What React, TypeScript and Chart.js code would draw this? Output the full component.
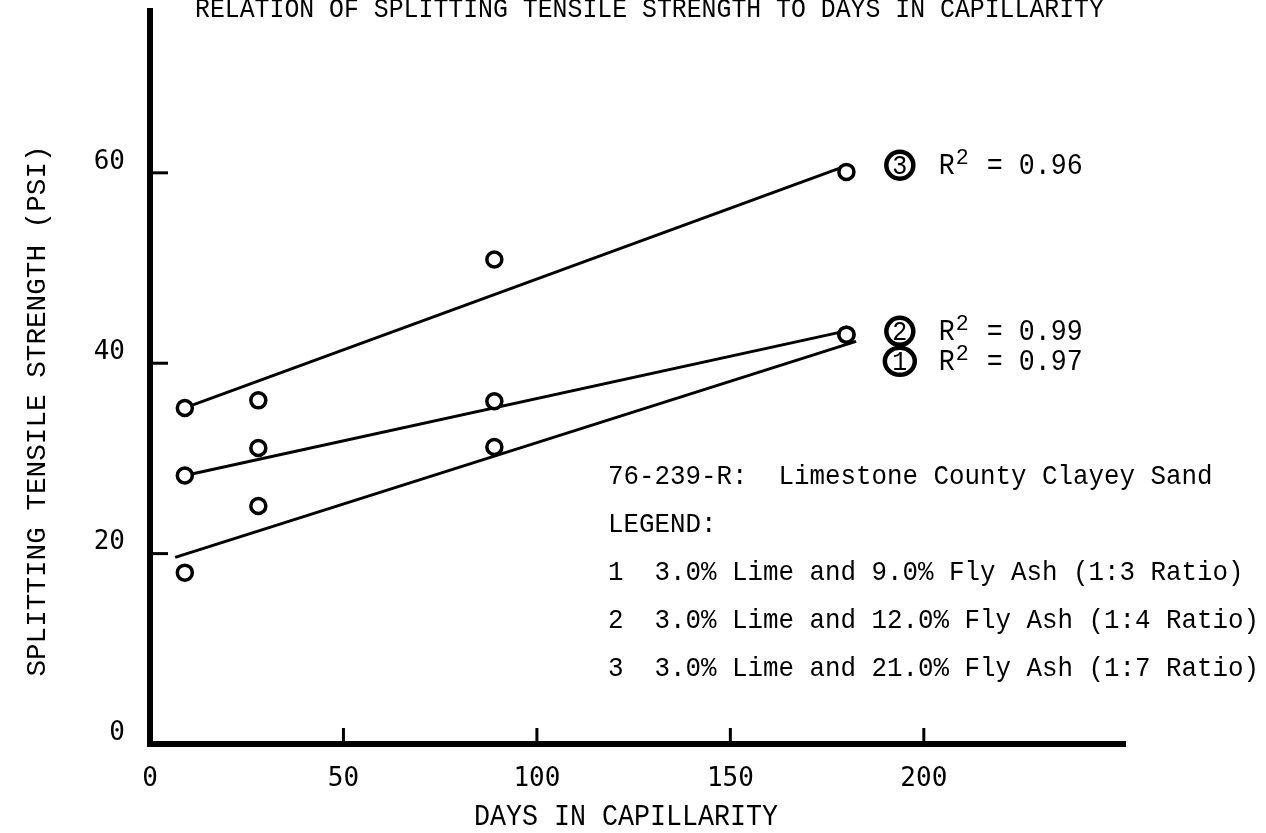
import React, { useEffect, useRef } from "react";
import { Chart, registerables } from "chart.js";

Chart.register(...registerables);

// Measured test ages (days in capillarity) and strengths (psi) for each mix
const days = [9, 28, 89, 180];
const strength1 = [18.0, 25.0, 31.2, 43.0];
const strength2 = [28.2, 31.1, 36.0, 43.0];
const strength3 = [35.3, 36.1, 50.9, 60.1];

// Regression lines: end points in days and psi
const fitDays1 = [6.5, 182.5];
const fitLine1 = [19.6, 42.3];
const fitDays2 = [9, 180];
const fitLine2 = [28.2, 43.4];
const fitDays3 = [9, 179];
const fitLine3 = [35.3, 60.6];

// Axis ticks
const xTickValues = [0, 50, 100, 150, 200];
const yTickValues = [0, 20, 40, 60];

// Curve identifiers with their R-squared values, placed in data units
const curveIds = ["1", "2", "3"];
const rSquared = ["0.97", "0.99", "0.96"];
const idDay = 193.8;
const idStrength = [40.2, 43.35, 60.8];

const titleText = "RELATION OF SPLITTING TENSILE STRENGTH TO DAYS IN CAPILLARITY";
const xTitle = "DAYS IN CAPILLARITY";
const yTitle = "SPLITTING TENSILE STRENGTH (PSI)";
const soilLine = "76-239-R:  Limestone County Clayey Sand";
const legendHead = "LEGEND:";
const legendLines = [
  "1  3.0% Lime and 9.0% Fly Ash (1:3 Ratio)",
  "2  3.0% Lime and 12.0% Fly Ash (1:4 Ratio)",
  "3  3.0% Lime and 21.0% Fly Ash (1:7 Ratio)",
];

const MONO = '"Liberation Mono", "DejaVu Sans Mono", monospace';
const INK = "#000";

// Draw typewriter-style text with a fixed advance per character
function typeText(
  ctx: CanvasRenderingContext2D,
  text: string,
  x: number,
  y: number,
  size: number,
  advance: number
) {
  ctx.save();
  ctx.font = `${size}px ${MONO}`;
  const w = ctx.measureText(text).width || 1;
  const sx = (advance * text.length) / w;
  ctx.translate(x, y);
  ctx.scale(sx, 1);
  ctx.textAlign = "left";
  ctx.textBaseline = "alphabetic";
  ctx.fillStyle = INK;
  ctx.fillText(text, 0, 0);
  ctx.restore();
}

const decorPlugin = {
  id: "decor",
  afterDraw(chart: any) {
    const ctx: CanvasRenderingContext2D = chart.ctx;
    const xs = chart.scales.x;
    const ys = chart.scales.y;
    const area = chart.chartArea;

    // inward tick marks
    ctx.save();
    ctx.strokeStyle = INK;
    ctx.lineWidth = 3;
    ctx.lineCap = "butt";
    xTickValues.forEach((v) => {
      if (v === 0) return;
      const px = xs.getPixelForValue(v);
      ctx.beginPath();
      ctx.moveTo(px, area.bottom);
      ctx.lineTo(px, area.bottom - 16);
      ctx.stroke();
    });
    yTickValues.forEach((v) => {
      if (v === 0) return;
      const py = ys.getPixelForValue(v);
      ctx.beginPath();
      ctx.moveTo(area.left, py);
      ctx.lineTo(area.left + 18, py);
      ctx.stroke();
    });
    ctx.restore();

    // titles
    typeText(ctx, titleText, 195, 17, 27, 14.9);
    typeText(ctx, xTitle, 474, 825, 30, 16);

    ctx.save();
    const yLen = yTitle.length * 16.6;
    ctx.translate(45, 411);
    ctx.rotate(-Math.PI / 2);
    typeText(ctx, yTitle, -yLen / 2, 0, 28, 16.6);
    ctx.restore();

    // soil note and legend
    const lx = 608;
    typeText(ctx, soilLine, lx, 484, 28, 15.5);
    typeText(ctx, legendHead, lx, 532, 28, 15.5);
    legendLines.forEach((t, i) => typeText(ctx, t, lx, 580 + i * 48, 28, 15.5));

    // circled curve numbers with R-squared
    curveIds.forEach((id, i) => {
      const cx = xs.getPixelForValue(idDay);
      const cy = ys.getPixelForValue(idStrength[i]);
      ctx.save();
      ctx.strokeStyle = INK;
      ctx.lineWidth = 4.5;
      ctx.beginPath();
      ctx.ellipse(cx, cy, id === "1" ? 15 : 13.5, 13.5, 0, 0, Math.PI * 2);
      ctx.stroke();
      ctx.restore();
      typeText(ctx, id, cx - 7.5, cy + 9, 28, 15);
      const tx = cx + 39;
      typeText(ctx, "R", tx, cy + 9, 30, 16);
      typeText(ctx, "2", tx + 17, cy - 1, 22, 13);
      typeText(ctx, "= " + rSquared[i], tx + 48, cy + 9, 30, 16);
    });
  },
};

export default function App() {
  const canvasRef = useRef<HTMLCanvasElement | null>(null);

  useEffect(() => {
    const canvas = canvasRef.current;
    if (!canvas) return;

    const points = (vals: number[]) => days.map((d, i) => ({ x: d, y: vals[i] }));
    const fit = (dx: number[], vy: number[]) => dx.map((d, i) => ({ x: d, y: vy[i] }));

    const markerStyle = {
      type: "scatter" as const,
      showLine: false,
      pointRadius: 7.5,
      pointBorderWidth: 3.5,
      pointBackgroundColor: "#fff",
      pointBorderColor: INK,
      order: 1,
    };
    const lineStyle = {
      type: "line" as const,
      borderColor: INK,
      borderWidth: 3,
      pointRadius: 0,
      fill: false,
      tension: 0,
      order: 2,
    };

    const chart = new Chart(canvas, {
      type: "scatter",
      data: {
        datasets: [
          { ...markerStyle, label: "1", data: points(strength1) },
          { ...markerStyle, label: "2", data: points(strength2) },
          { ...markerStyle, label: "3", data: points(strength3) },
          { ...lineStyle, label: "fit 1", data: fit(fitDays1, fitLine1) },
          { ...lineStyle, label: "fit 2", data: fit(fitDays2, fitLine2) },
          { ...lineStyle, label: "fit 3", data: fit(fitDays3, fitLine3) },
        ] as any,
      },
      options: {
        responsive: false,
        animation: false,
        layout: { padding: { top: 10, left: 0, right: 141, bottom: 0 } },
        plugins: {
          legend: { display: false },
          tooltip: { enabled: false },
          title: { display: false },
        },
        scales: {
          x: {
            type: "linear",
            min: 0,
            max: 252,
            afterFit: (s: any) => {
              s.height = 89;
              s.paddingLeft = 0;
              s.paddingRight = 0;
            },
            afterBuildTicks: (s: any) => {
              s.ticks = xTickValues.map((v) => ({ value: v }));
            },
            grid: { display: false, drawTicks: false },
            border: { display: true, color: INK, width: 6 },
            ticks: {
              padding: 20,
              color: INK,
              font: { family: '"DejaVu Sans Mono", monospace', size: 26 },
              maxRotation: 0,
              autoSkip: false,
            },
          },
          y: {
            type: "linear",
            min: 0,
            max: 77,
            afterFit: (s: any) => {
              s.width = 150;
              s.paddingTop = 0;
              s.paddingBottom = 0;
            },
            afterBuildTicks: (s: any) => {
              s.ticks = yTickValues.map((v) => ({ value: v }));
            },
            grid: { display: false, drawTicks: false },
            border: { display: true, color: INK, width: 6 },
            ticks: {
              padding: 25,
              labelOffset: -11,
              color: INK,
              font: { family: '"DejaVu Sans Mono", monospace', size: 26 },
              autoSkip: false,
            },
          },
        },
      },
      plugins: [decorPlugin],
    });

    return () => chart.destroy();
  }, []);

  return (
    <div style={{ position: "absolute", left: 0, top: 0, width: 1266, height: 833, background: "#fff" }}>
      <canvas ref={canvasRef} width={1266} height={833} style={{ display: "block" }} />
    </div>
  );
}
